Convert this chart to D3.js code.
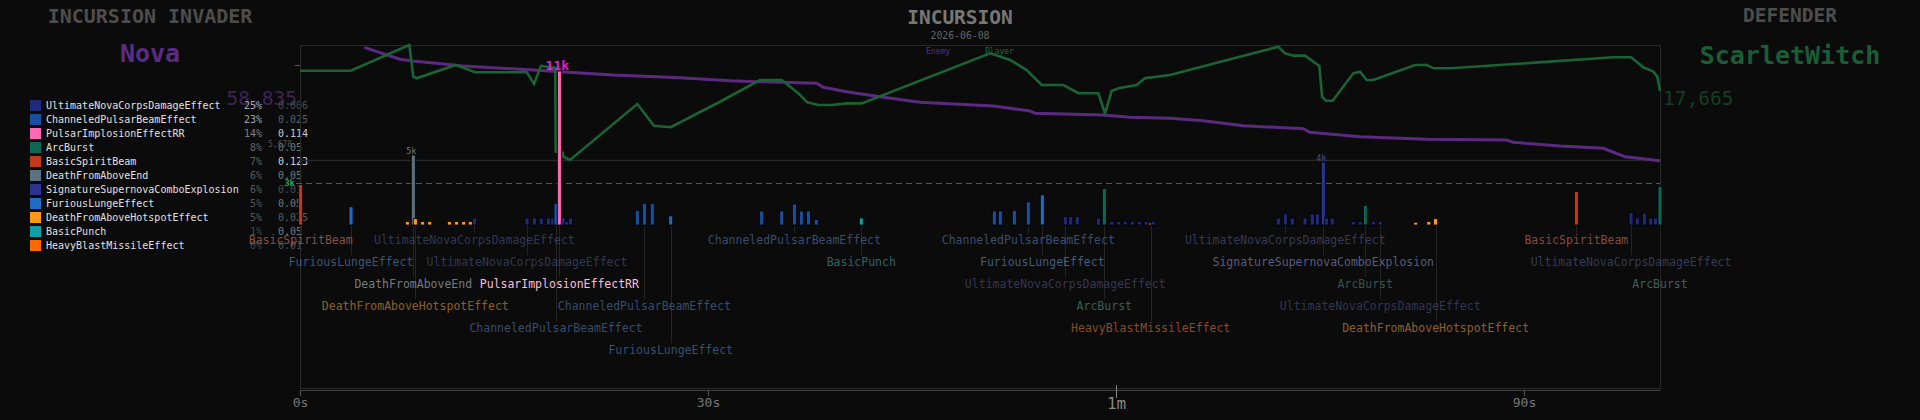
<!DOCTYPE html>
<meta charset="utf-8">
<script src="https://d3js.org/d3.v7.min.js"></script>
<style>
body { margin: 0; background: #0b0b0b; }
svg { display: block; font-family: "DejaVu Sans Mono", monospace; }
</style>
<div id="chart"></div>
<script>
// abilities, legend order
var abilities = ["UltimateNovaCorpsDamageEffect", "ChanneledPulsarBeamEffect", "PulsarImplosionEffectRR",
  "ArcBurst", "BasicSpiritBeam", "DeathFromAboveEnd", "SignatureSupernovaComboExplosion",
  "FuriousLungeEffect", "DeathFromAboveHotspotEffect", "BasicPunch", "HeavyBlastMissileEffect"];
var abilityColors = ["#1f2a7a", "#1a4fa0", "#ff69b4", "#0e6655", "#c0391b", "#5d7280", "#2c3490",
  "#1f6bc4", "#ff9a10", "#11a0a8", "#ff6a00"];
var abilityShare = [25, 23, 14, 8, 7, 6, 6, 5, 5, 1, 0];
var abilityRate = ["0.006", "0.025", "0.114", "0.05", "0.123", "0.05", "0.01", "0.05", "0.025", "0.05", "0.01"];

// hits: seconds, damage (k), ability index, label lane (-1 = no label)
var hitTime = [0.05, 3.75, 7.89, 8.33, 8.48, 9.02, 9.54, 10.98, 11.52, 12.04, 12.52, 12.82, 16.69, 17.23, 17.74,
  18.26, 18.58, 18.82, 19.07, 19.36, 19.61, 19.88, 24.8, 25.32, 25.9, 27.26, 33.95, 35.42, 36.35, 36.86,
  37.38, 37.96, 41.27, 51.05, 51.49, 52.52, 53.55, 54.58, 56.27, 56.67, 57.15, 58.7, 59.14, 59.68, 60.2,
  60.68, 61.2, 61.71, 62.21, 62.55, 62.74, 71.93, 72.45, 72.96, 73.9, 74.43, 74.8, 75.24, 75.49, 75.9,
  77.45, 77.96, 78.33, 78.92, 79.43, 82.04, 83.0, 83.5, 93.85, 97.87, 98.33, 98.85, 99.32, 99.66, 100];
var hitDamage = [2.9, 1.3, 0.25, 5.0, 0.45, 0.25, 0.25, 0.25, 0.25, 0.25, 0.25, 0.5, 0.5, 0.5, 0.5,
  0.5, 0.5, 1.55, 11, 0.5, 0.25, 0.5, 1.05, 1.55, 1.55, 0.65, 1.0, 1.0, 1.5, 1.0,
  1.0, 0.4, 0.5, 1.0, 1.0, 1.05, 1.65, 2.15, 0.6, 0.6, 0.6, 0.5, 2.6, 0.25, 0.25,
  0.25, 0.25, 0.25, 0.25, 0.15, 0.25, 0.5, 0.8, 0.5, 0.5, 0.8, 0.8, 4.5, 0.5, 0.5,
  0.25, 0.25, 1.4, 0.25, 0.25, 0.2, 0.25, 0.45, 2.4, 0.9, 0.5, 0.85, 0.5, 0.5, 2.75];
var hitAbility = [4, 7, 8, 5, 8, 8, 8, 8, 8, 8, 8, 0, 0, 0, 0,
  0, 0, 1, 2, 0, 0, 0, 1, 1, 1, 7, 1, 1, 1, 1,
  1, 1, 9, 1, 1, 1, 1, 7, 0, 0, 0, 0, 3, 0, 0,
  0, 0, 0, 0, 10, 0, 0, 0, 0, 0, 0, 0, 6, 0, 0,
  0, 0, 3, 0, 0, 8, 8, 8, 4, 0, 0, 0, 0, 0, 3];
var hitLane = [0, 1, -1, 2, 3, -1, -1, -1, -1, -1, -1, 0, 1, -1, -1,
  -1, -1, 4, 2, -1, -1, -1, -1, 3, -1, 5, -1, -1, 0, -1,
  -1, -1, 1, -1, -1, -1, 0, 1, 2, -1, -1, -1, 3, -1, -1,
  -1, -1, -1, -1, 4, -1, -1, 0, -1, -1, -1, -1, 1, -1, -1,
  -1, -1, 2, -1, 3, -1, -1, 4, 0, 1, -1, -1, -1, -1, 2];

// health traces (% of max)
var playerTime = [0, 3.73, 8.04, 8.33, 8.58, 11.45, 12.87, 16.67, 17.21, 17.72, 18.77, 18.8, 19.32, 19.35,
  19.85, 24.8, 26.03, 27.26, 30.88, 33.82, 35.42, 36.64, 37.3, 38.11, 39.1, 40.2, 41.3, 50.74, 52.21,
  53.43, 54.54, 56.13, 57.23, 58.7, 59.19, 59.68, 60.17, 61.52, 62.13, 63.97, 71.93, 72.43, 73.04, 73.9,
  74.95, 75.15, 75.44, 75.93, 77.45, 77.94, 78.43, 78.92, 81.99, 82.84, 83.38, 84.56, 96.57, 97.87,
  98.77, 99.51, 99.8, 100];
var playerHp = [77.8, 77.8, 100, 72.7, 71.3, 82.8, 76.5, 76.5, 66.4, 81.9, 80.2, 8.0, 7.2, 3.7,
  0.9, 49.1, 30.4, 29.1, 51.1, 69.8, 69.8, 58.4, 50.6, 48.3, 48.3, 49.7, 49.7, 92.8, 87.1,
  78.4, 65.5, 65.5, 58.4, 58.4, 41.1, 60.3, 62.7, 65.5, 71.3, 74.1, 98.5, 92.8, 90.8, 90.8,
  81.9, 55.4, 52.0, 52.0, 75.6, 77.0, 69.8, 69.8, 82.8, 82.8, 79.9, 79.9, 89.4, 89.4,
  80.8, 77.0, 72.7, 60.3];
var enemyTime = [4.73, 7.35, 8.33, 12.0, 17.15, 19.12, 23.04, 27.94, 31.62, 33.58, 37.99, 38.48, 40.2,
  42.65, 45.59, 50.98, 53.68, 54.04, 59.07, 61.03, 63.97, 66.42, 69.36, 73.77, 74.26, 77.94, 82.85,
  88.73, 89.21, 92.65, 95.83, 97.43, 100];
var enemyHp = [98.0, 87.7, 86.2, 81.9, 78.4, 77.0, 74.1, 71.8, 69.2, 68.4, 67.0, 63.5, 59.7,
  55.4, 50.6, 47.4, 43.1, 41.1, 39.7, 37.7, 36.8, 34.7, 30.4, 27.8, 24.7, 20.9, 18.7,
  18.1, 16.1, 12.9, 10.9, 3.7, 0.3];

var tickSeconds = [0, 30, 60, 90];
var tickLabels = ["0s", "30s", "1m", "90s"];

var width = 1920, height = 420;
var plot = { left: 300, right: 1660, top: 45, bottom: 388 };

var svg = d3.select("#chart").append("svg")
    .attr("width", width)
    .attr("height", height);

var x = d3.scaleLinear().domain([0, 100]).range([plot.left, plot.right]);
var hpY = d3.scaleLinear().domain([0, 100]).range([161, 45]);
var dmgY = d3.scaleLinear().domain([0, 11]).range([225, 71]);

// headers
svg.append("text").attr("x", 150).attr("y", 23).attr("text-anchor", "middle")
    .attr("font-size", 20).attr("font-weight", "bold").attr("fill", "#4d4d4d").text("INCURSION INVADER");
svg.append("text").attr("x", 150).attr("y", 62).attr("text-anchor", "middle")
    .attr("font-size", 25).attr("font-weight", "bold").attr("fill", "#5a2d82").text("Nova");
svg.append("text").attr("x", 297).attr("y", 105).attr("text-anchor", "end")
    .attr("font-size", 19.5).attr("fill", "#3d2454").text("58,835");
svg.append("text").attr("x", 960).attr("y", 24).attr("text-anchor", "middle")
    .attr("font-size", 19.5).attr("font-weight", "bold").attr("fill", "#777").text("INCURSION");
svg.append("text").attr("x", 960).attr("y", 39).attr("text-anchor", "middle")
    .attr("font-size", 9.8).attr("fill", "#666").text("2026-06-08");
svg.append("text").attr("x", 1790).attr("y", 22).attr("text-anchor", "middle")
    .attr("font-size", 19.5).attr("font-weight", "bold").attr("fill", "#4d4d4d").text("DEFENDER");
svg.append("text").attr("x", 1790).attr("y", 64).attr("text-anchor", "middle")
    .attr("font-size", 25).attr("font-weight", "bold").attr("fill", "#1a5c36").text("ScarletWitch");
svg.append("text").attr("x", 1663).attr("y", 105)
    .attr("font-size", 19.5).attr("fill", "#153d26").text("17,665");

// legend
var pctColor = d3.scaleLinear().domain([0, 25]).range(["#444", "#aaa"]).clamp(true);
var rateColor = d3.scaleLinear().domain([0, 0.05, 0.12]).range(["#444", "#777", "#d0d0d0"]).clamp(true);
var legend = svg.append("g").attr("font-size", 10);
abilities.forEach(function(name, i) {
  var y0 = 100 + i * 14;
  legend.append("rect").attr("x", 30).attr("y", y0).attr("width", 11).attr("height", 11)
      .attr("fill", abilityColors[i]);
  legend.append("text").attr("x", 46).attr("y", y0 + 9).attr("fill", "#e0e0e0").text(name);
  legend.append("text").attr("x", 262).attr("y", y0 + 9).attr("text-anchor", "end")
      .attr("fill", pctColor(abilityShare[i])).text(abilityShare[i] + "%");
  legend.append("text").attr("x", 278).attr("y", y0 + 9)
      .attr("fill", rateColor(+abilityRate[i])).text(abilityRate[i]);
});
svg.append("text").attr("x", 268).attr("y", 147).attr("font-size", 8).attr("fill", "#555").text("5,678");

// frame
svg.append("rect").attr("x", plot.left + 0.5).attr("y", plot.top + 0.5)
    .attr("width", plot.right - plot.left).attr("height", plot.bottom - plot.top)
    .attr("fill", "none").attr("stroke", "#2a2a2a");
svg.append("line").attr("x1", plot.left).attr("x2", plot.right)
    .attr("y1", Math.round(hpY(0)) - 0.5).attr("y2", Math.round(hpY(0)) - 0.5)
    .attr("stroke", "#262626").attr("stroke-width", 1.5);
svg.append("line").attr("x1", plot.left - 5).attr("x2", plot.left)
    .attr("y1", 65.5).attr("y2", 65.5).attr("stroke", "#555");

// 3k reference
svg.append("line").attr("x1", plot.left - 4).attr("x2", plot.right)
    .attr("y1", dmgY(3) + 0.5).attr("y2", dmgY(3) + 0.5)
    .attr("stroke", "#555").attr("stroke-dasharray", "6,4");
svg.append("text").attr("x", plot.left - 5).attr("y", dmgY(3) + 3).attr("text-anchor", "end")
    .attr("font-size", 9).attr("font-weight", "bold").attr("fill", "#22a35a").text("3k");

// health lines
var line = d3.line().x(function(d) { return x(d[0]); }).y(function(d) { return hpY(d[1]); });
svg.append("path").datum(d3.zip(enemyTime, enemyHp)).attr("d", line)
    .attr("fill", "none").attr("stroke", "#5b2a80").attr("stroke-width", 3);
svg.append("path").datum(d3.zip(playerTime, playerHp)).attr("d", line)
    .attr("fill", "none").attr("stroke", "#1a6335").attr("stroke-width", 2.6);
svg.append("text").attr("x", 926).attr("y", 54).attr("font-size", 8).attr("fill", "#5a2d82").text("Enemy");
svg.append("text").attr("x", 985).attr("y", 54).attr("font-size", 8).attr("fill", "#1a6a3a").text("Player");

// hits
var hits = hitTime.map(function(t, i) {
  return { t: t, v: hitDamage[i], a: hitAbility[i], lane: hitLane[i] };
});
var maxHit = d3.max(hits, function(d) { return d.v; });

function labelColor(d) {
  var k = d.v / maxHit;
  return d3.interpolateRgb(abilityColors[d.a], "#fff")(0.25 + 0.3 * k);
}

var labelled = hits.filter(function(d) { return d.lane >= 0; });
svg.selectAll(".conn").data(labelled).enter().append("line")
    .attr("class", "conn")
    .attr("x1", function(d) { return Math.round(x(d.t)) + 0.5; })
    .attr("x2", function(d) { return Math.round(x(d.t)) + 0.5; })
    .attr("y1", dmgY(0) + 1)
    .attr("y2", function(d) { return 244 + d.lane * 22 - 11; })
    .attr("stroke", "#242424");

svg.selectAll(".bar").data(hits).enter().append("rect")
    .attr("class", "bar")
    .attr("x", function(d) { return x(d.t) - 2; })
    .attr("y", function(d) { return dmgY(d.v); })
    .attr("width", 4)
    .attr("height", function(d) { return dmgY(0) - dmgY(d.v); })
    .attr("fill", function(d) { return abilityColors[d.a]; })
    .attr("stroke", "#000").attr("stroke-width", 0.8);

svg.selectAll(".big").data(hits.filter(function(d) { return d.v >= 4; })).enter().append("text")
    .attr("class", "big")
    .attr("x", function(d) { return x(d.t) - 2; })
    .attr("y", function(d) { return dmgY(d.v) - 1; })
    .attr("text-anchor", "middle")
    .attr("font-size", function(d) { return d.v === maxHit ? 13 : 8.5; })
    .attr("font-weight", function(d) { return d.v === maxHit ? "bold" : "normal"; })
    .attr("fill", function(d) { return d.v === maxHit ? "#e818dc" : d3.interpolateRgb(abilityColors[d.a], "#888")(0.3); })
    .text(function(d) { return Math.floor(d.v) + "k"; });

svg.selectAll(".lbl").data(labelled).enter().append("text")
    .attr("class", "lbl")
    .attr("x", function(d) { return x(d.t); })
    .attr("y", function(d) { return 244 + d.lane * 22; })
    .attr("text-anchor", "middle")
    .attr("font-size", 11.5)
    .attr("fill", labelColor)
    .attr("fill-opacity", function(d) { return 0.5 + 0.5 * d.v / maxHit; })
    .text(function(d) { return abilities[d.a]; });

// time axis
var axis = svg.append("g").attr("transform", "translate(0,390)")
    .call(d3.axisBottom(x).tickValues(tickSeconds)
      .tickFormat(function(d, i) { return tickLabels[i]; })
      .tickSize(6).tickPadding(2).tickSizeOuter(0));
axis.select(".domain").attr("stroke", "#444");
axis.selectAll(".tick line").attr("stroke", "#555");
axis.selectAll(".tick text").attr("fill", "#777").attr("font-size", 13)
    .attr("font-family", "DejaVu Sans Mono, monospace");
axis.selectAll(".tick").filter(function(d) { return d === 60; })
    .call(function(g) {
      g.select("line").attr("y1", -5).attr("y2", 8).attr("stroke", "#888");
      g.select("text").attr("font-size", 16).attr("fill", "#888");
    });
</script>
